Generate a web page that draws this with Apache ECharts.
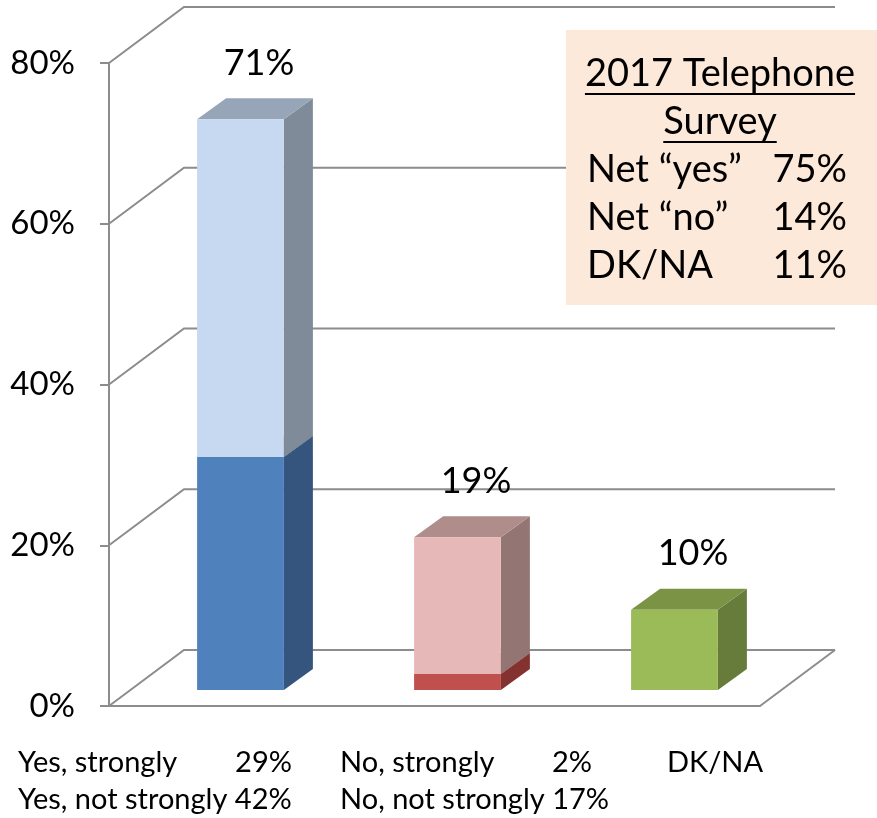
<!DOCTYPE html>
<html>
<head>
<meta charset="utf-8">
<script src="https://cdn.jsdelivr.net/npm/echarts@6/dist/echarts.min.js"></script>
<style>
  html, body { margin: 0; padding: 0; background: #fff; }
  #chart-area { width: 877px; height: 818px; }
</style>
</head>
<body>
<div id="chart-area"></div>
<script>
// data
const categories = ['Yes', 'No', 'DK/NA'];
const stronglyValues = [29, 2, 10];
const notStronglyValues = [42, 17, 0];
const yTicks = [0, 20, 40, 60, 80];
const surveyLabels = ['Net \u201cyes\u201d', 'Net \u201cno\u201d', 'DK/NA'];
const surveyValues = [75, 14, 11];
const surveyTitle = ['2017 Telephone', 'Survey'];

// fake 3D offsets (pixels)
const WALL = [75, -56];
const SHIFT = [23, -16];
const DEPTH = [29, -21];
const FONT = 'Lato';
const GRID_COLOR = '#8c8c8c';

const lowerColors = [
  { front: '#4f81bd', side: '#35557e', top: '#42648f' },
  { front: '#c0504d', side: '#843230', top: '#9a3f3d' },
  { front: '#9bbb59', side: '#677c3a', top: '#7a9344' }
];
const upperColors = [
  { front: '#c6d9f0', side: '#7f8b98', top: '#97a5b8' },
  { front: '#e6b9b8', side: '#937574', top: '#ae8d8b' },
  { front: '#9bbb59', side: '#677c3a', top: '#7a9344' }
];

function measure(text, size) {
  const ctx = document.createElement('canvas').getContext('2d');
  ctx.font = size + 'px ' + FONT;
  return ctx.measureText(text).width;
}

function barRenderer(palette) {
  return function (params, api) {
    const ci = api.value(0);
    const base = api.value(1);
    const val = api.value(2);
    if (!val) return;
    const w = api.size([1, 0])[0] * 0.4;
    const pb = api.coord([ci, base]);
    const pt = api.coord([ci, base + val]);
    const x0 = pb[0] - w / 2 + SHIFT[0];
    const x1 = x0 + w;
    const yb = pb[1] + SHIFT[1];
    const yt = pt[1] + SHIFT[1];
    const dx = DEPTH[0], dy = DEPTH[1];
    const c = palette[ci];
    return {
      type: 'group',
      children: [
        { type: 'polygon', shape: { points: [[x1, yb], [x1 + dx, yb + dy], [x1 + dx, yt + dy], [x1, yt]] }, style: { fill: c.side } },
        { type: 'polygon', shape: { points: [[x0, yt], [x1, yt], [x1 + dx, yt + dy], [x0 + dx, yt + dy]] }, style: { fill: c.top } },
        { type: 'polygon', shape: { points: [[x0, yb], [x1, yb], [x1, yt], [x0, yt]] }, style: { fill: c.front } }
      ]
    };
  };
}

let chartDom = document.getElementById('chart-area');
let myChart = echarts.init(chartDom);

const totals = categories.map((c, i) => stronglyValues[i] + notStronglyValues[i]);

// survey box texts
const boxX = 566, boxY = 30, boxW = 311, boxH = 275;
const boxCenter = 720;
const titleSize = 38;
const graphics = [
  { type: 'rect', z: 100, shape: { x: boxX, y: boxY, width: boxW, height: boxH }, style: { fill: '#fde9d9' } }
];
surveyTitle.forEach((t, i) => {
  const y = 74 + i * 48;
  const tw = measure(t, titleSize);
  graphics.push({ type: 'text', z: 101, x: boxCenter, y: y, style: { text: t, font: titleSize + 'px ' + FONT, fill: '#000', align: 'center', verticalAlign: 'middle' } });
  graphics.push({ type: 'line', z: 101, shape: { x1: boxCenter - tw / 2, y1: y + 20, x2: boxCenter + tw / 2, y2: y + 20 }, style: { stroke: '#000', lineWidth: 2 } });
});
surveyLabels.forEach((t, i) => {
  const y = 170 + i * 48;
  graphics.push({ type: 'text', z: 101, x: 587, y: y, style: { text: t, font: titleSize + 'px ' + FONT, fill: '#000', align: 'left', verticalAlign: 'middle' } });
  graphics.push({ type: 'text', z: 101, x: 847, y: y, style: { text: surveyValues[i] + '%', font: titleSize + 'px ' + FONT, fill: '#000', align: 'right', verticalAlign: 'middle' } });
});

// category text under the floor
const labelSize = 29;
const bottomLabels = [
  { x: 18, y: 763, text: 'Yes, strongly', align: 'left' },
  { x: 292, y: 763, text: stronglyValues[0] + '%', align: 'right' },
  { x: 18, y: 800, text: 'Yes, not strongly ' + notStronglyValues[0] + '%', align: 'left' },
  { x: 340, y: 763, text: 'No, strongly', align: 'left' },
  { x: 592, y: 763, text: stronglyValues[1] + '%', align: 'right' },
  { x: 340, y: 800, text: 'No, not strongly ' + notStronglyValues[1] + '%', align: 'left' },
  { x: 667, y: 763, text: categories[2], align: 'left' }
];
bottomLabels.forEach(l => {
  graphics.push({ type: 'text', z: 101, x: l.x, y: l.y, style: { text: l.text, font: labelSize + 'px ' + FONT, fill: '#000', align: l.align, verticalAlign: 'middle' } });
});

let option = {
  animation: false,
  grid: { left: 109, right: 117, top: 63, bottom: 112 },
  xAxis: {
    type: 'category',
    data: categories,
    axisLine: { show: true, lineStyle: { color: GRID_COLOR, width: 2 } },
    axisTick: { show: false },
    axisLabel: { show: false }
  },
  yAxis: {
    type: 'value',
    min: 0,
    max: 80,
    interval: 20,
    axisLine: { show: true, lineStyle: { color: GRID_COLOR, width: 2 } },
    axisTick: { show: true, length: 9, lineStyle: { color: GRID_COLOR, width: 2 } },
    axisLabel: { formatter: '{value}%', fontFamily: FONT, fontSize: 33, color: '#000', margin: 34 },
    splitLine: { show: false }
  },
  graphic: graphics,
  series: [
    {
      name: 'walls',
      type: 'custom',
      z: 1,
      silent: true,
      encode: { x: 0, y: 1 },
      data: yTicks.map(v => [0, v]),
      renderItem: function (params, api) {
        const cs = params.coordSys;
        const y = api.coord([0, api.value(1)])[1];
        const children = [
          { type: 'polyline', shape: { points: [[cs.x, y], [cs.x + WALL[0], y + WALL[1]], [cs.x + cs.width + WALL[0], y + WALL[1]]] }, style: { stroke: GRID_COLOR, lineWidth: 2, fill: null } }
        ];
        if (api.value(1) === 0) {
          children.push({ type: 'line', shape: { x1: cs.x + cs.width, y1: y, x2: cs.x + cs.width + WALL[0], y2: y + WALL[1] }, style: { stroke: GRID_COLOR, lineWidth: 2 } });
        }
        return { type: 'group', children: children };
      }
    },
    {
      name: 'strongly',
      type: 'custom',
      z: 2,
      encode: { x: 0, y: 2 },
      data: categories.map((c, i) => [i, 0, stronglyValues[i]]),
      renderItem: barRenderer(lowerColors)
    },
    {
      name: 'not strongly',
      type: 'custom',
      z: 3,
      encode: { x: 0, y: 2 },
      data: categories.map((c, i) => [i, stronglyValues[i], notStronglyValues[i]]),
      renderItem: barRenderer(upperColors)
    },
    {
      name: 'totals',
      type: 'custom',
      z: 4,
      encode: { x: 0, y: 1 },
      data: totals.map((v, i) => [i, v]),
      renderItem: function (params, api) {
        const p = api.coord([api.value(0), api.value(1)]);
        return {
          type: 'text',
          x: p[0] + SHIFT[0] + DEPTH[0] / 2 + 4,
          y: p[1] + SHIFT[1] + DEPTH[1] - 35,
          style: { text: api.value(1) + '%', font: '36px ' + FONT, fill: '#000', align: 'center', verticalAlign: 'middle' }
        };
      }
    }
  ]
};

option && myChart.setOption(option);
</script>
</body>
</html>
